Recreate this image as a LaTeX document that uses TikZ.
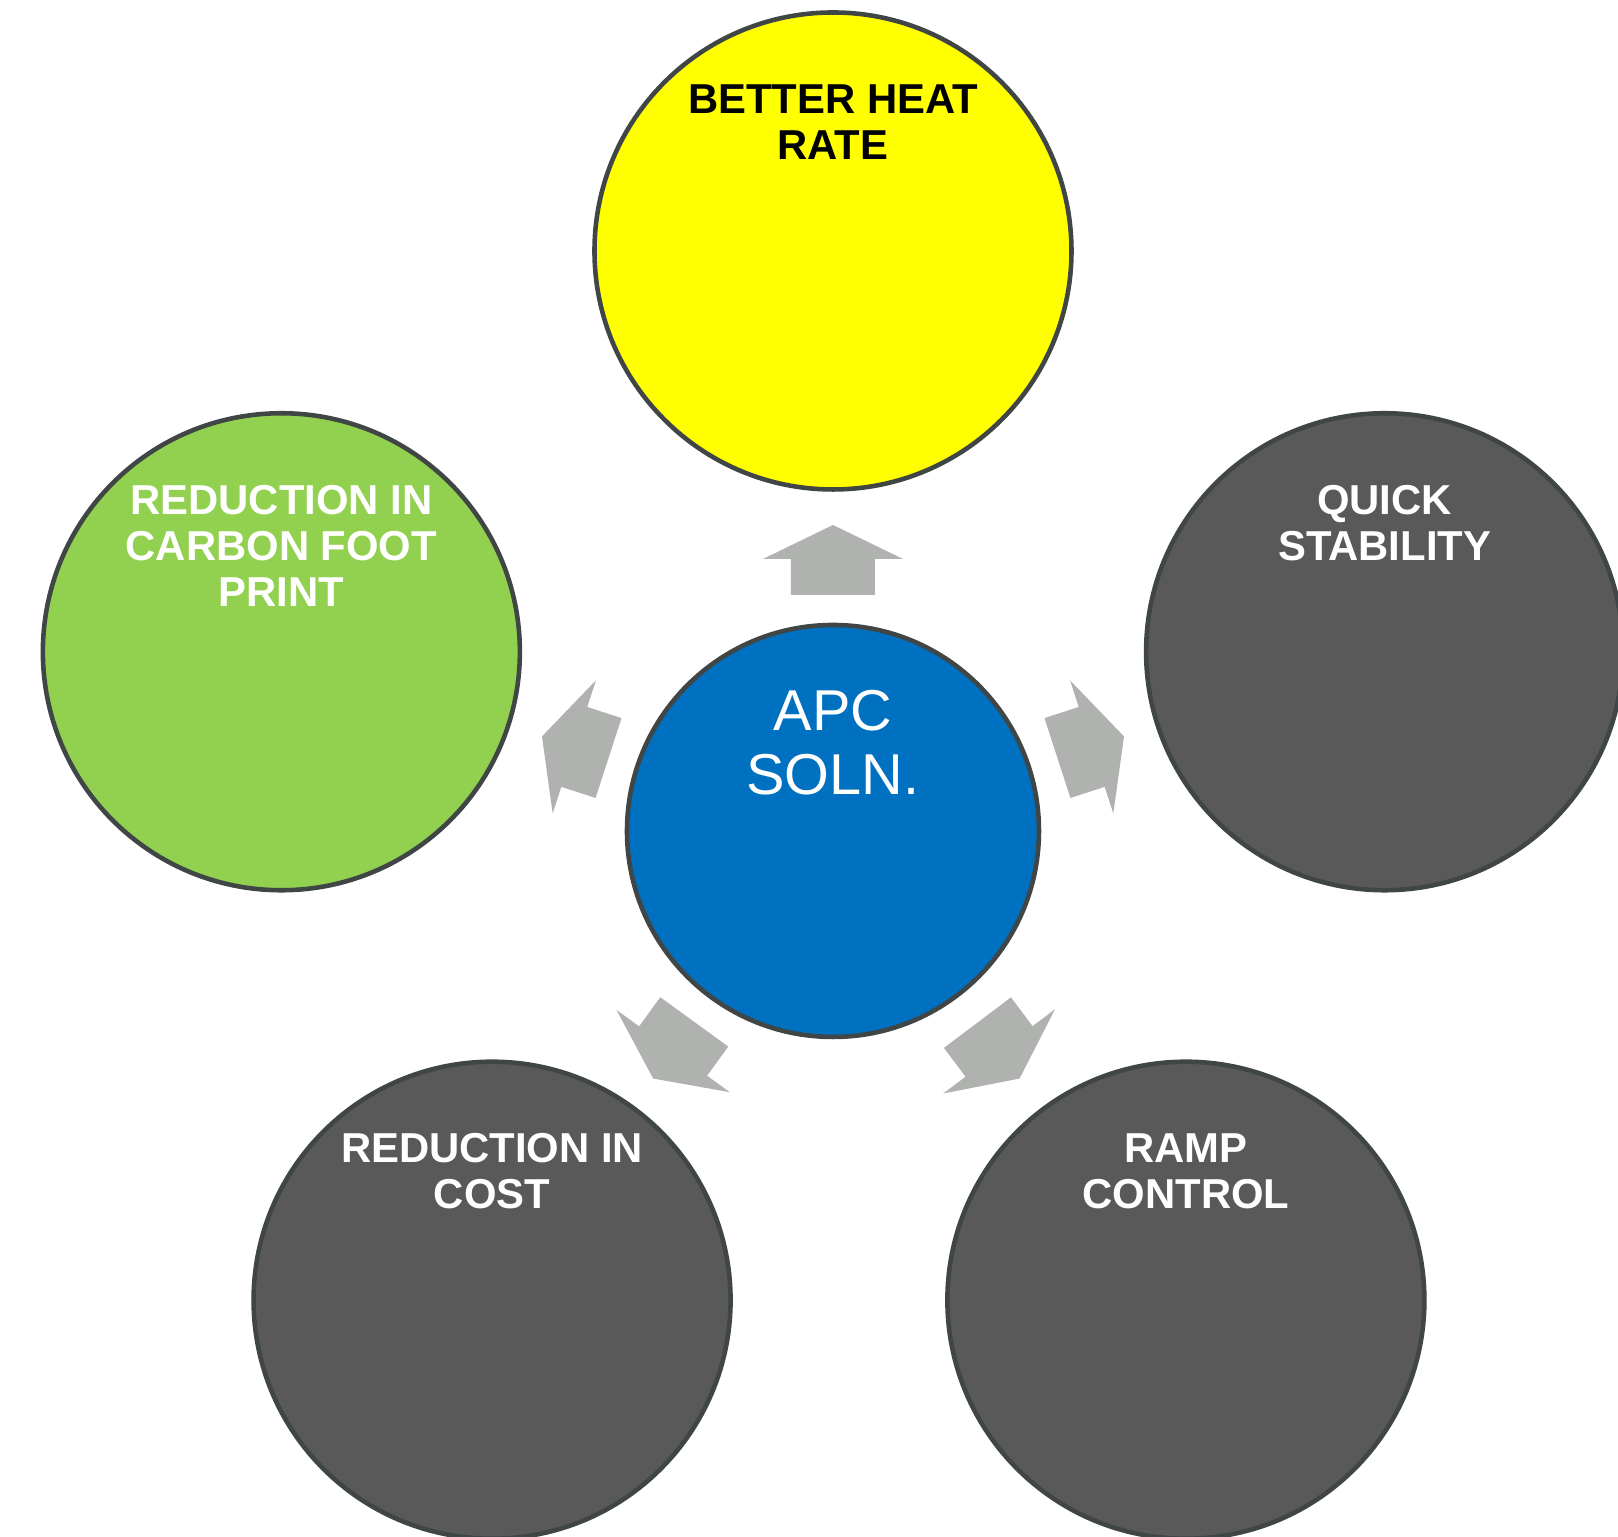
\documentclass[tikz,border=0pt]{standalone}
\usepackage{fontspec}
\setmainfont{Liberation Sans}
\usetikzlibrary{graphs}
\usetikzlibrary{positioning}

\definecolor{heatyellow}{RGB}{255,255,0}
\definecolor{carbongreen}{RGB}{146,208,80}
\definecolor{apcblue}{RGB}{0,112,192}
\definecolor{ringgrey}{RGB}{89,89,89}
\definecolor{rimgrey}{RGB}{64,69,69}
\definecolor{arrowgrey}{RGB}{176,178,176}

\begin{document}
\begin{tikzpicture}[every node/.style={draw=rimgrey,circle,line width=1.3pt},
    ring/.style={minimum size=4.77cm,fill=ringgrey},
    caption/.style={draw=none,rectangle,inner sep=0pt,align=center,text=white,
      font=\fontsize{11.9}{13.1}\selectfont\bfseries}]
        \useasboundingbox (-8.33,-7.06) rectangle (7.85,8.31);
        \node[minimum size=4.12cm,fill=apcblue] (apc) at (0,0) {};
        \graph[clockwise=5, radius=5.8cm, empty nodes, nodes={ring}] {
            heat[fill=heatyellow], stab, ramp[xshift=0.12cm], cost, carbon[fill=carbongreen] };

        \foreach \a/\r in {90/0,18/0,-53/0.04,-126/0,162/0}{
            \fill[arrowgrey,shift={(apc.center)},rotate=\a,xshift=\r cm] (2.36,-0.42) -- (2.72,-0.42)
              -- (2.72,-0.70) -- (3.06,0) -- (2.72,0.70) -- (2.72,0.42) -- (2.36,0.42) -- cycle;
          }

        \node[caption,text=black,below=0.72cm of heat.north] (heatlbl) {BETTER HEAT\\RATE};
        \node[caption,below=0.72cm of stab.north] (stablbl) {QUICK\\STABILITY};
        \node[caption,below=0.72cm of ramp.north] (ramplbl) {RAMP\\CONTROL};
        \node[caption,below=0.72cm of cost.north] (costlbl) {REDUCTION IN\\COST};
        \node[caption,below=0.72cm of carbon.north] (carbonlbl) {REDUCTION IN\\CARBON FOOT\\PRINT};
        \node[caption,font=\fontsize{16.4}{18.2}\selectfont,below=0.65cm of apc.north] (apclbl) {APC\\SOLN.};
        \end{tikzpicture}
\end{document}
